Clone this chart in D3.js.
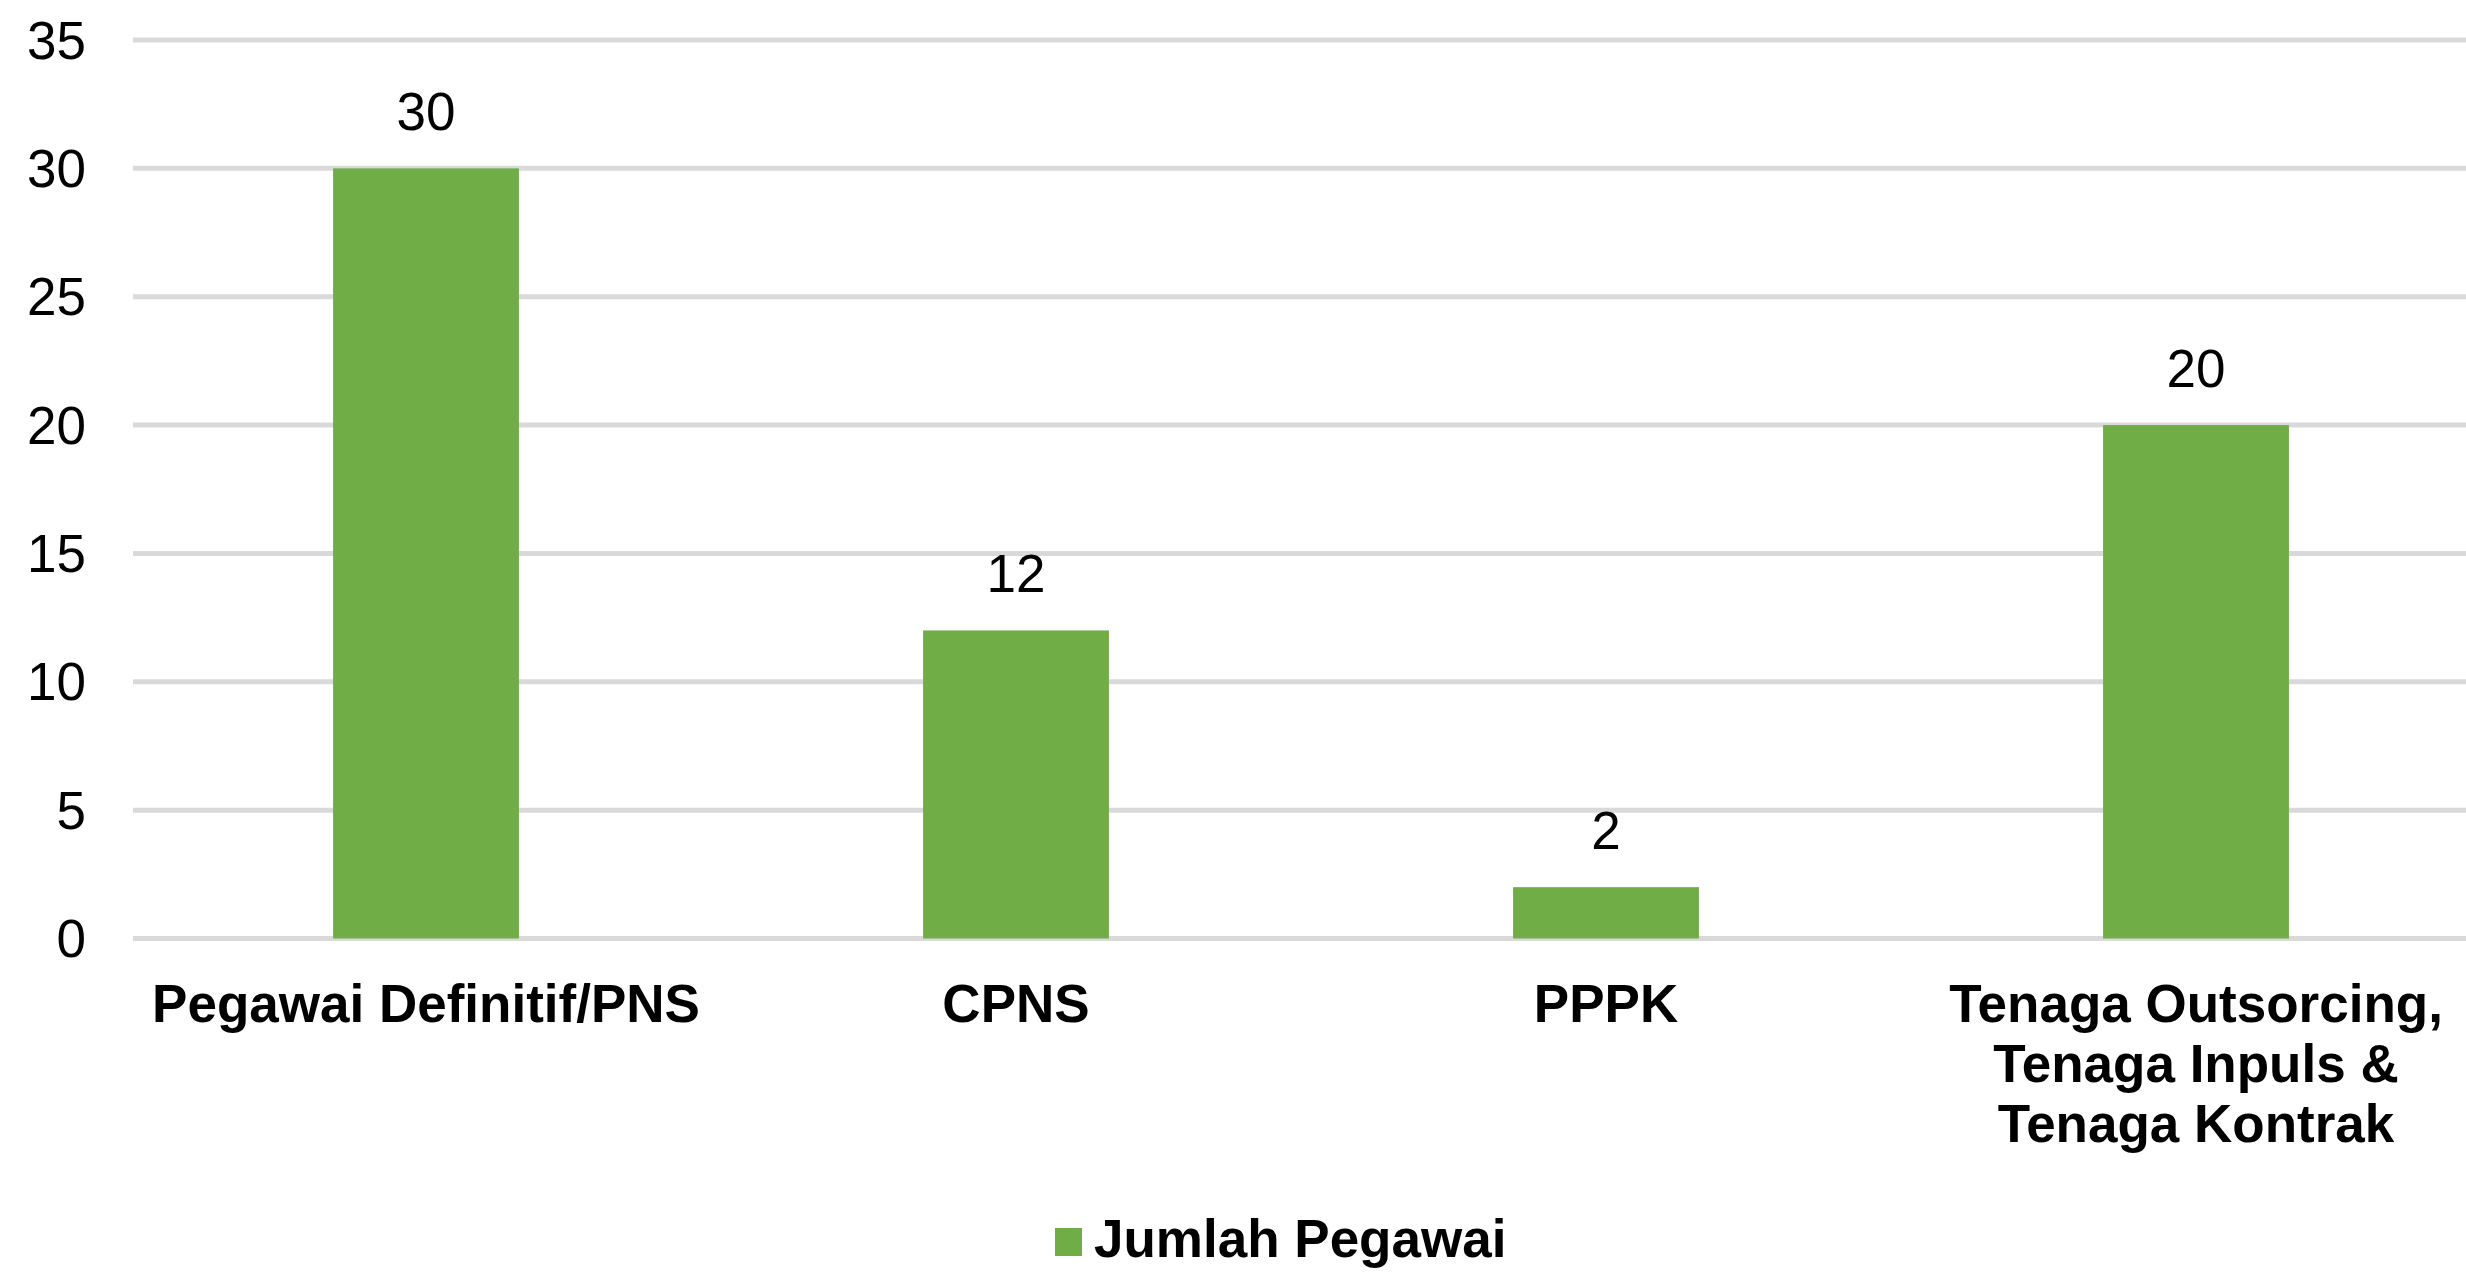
<!DOCTYPE html>
<html>
<head>
<meta charset="utf-8">
<script src="https://cdn.jsdelivr.net/npm/d3@7"></script>
<style>
	body { margin: 0; background: #fff; }
	svg { display: block; font-family: "Liberation Sans", Arial, sans-serif; }
</style>
</head>
<body>
<svg width="2466" height="1273"></svg>
<script>
// Jumlah pegawai per jenis

var categories = ['Pegawai Definitif/PNS', 'CPNS', 'PPPK', 'Tenaga Outsorcing, Tenaga Inpuls & Tenaga Kontrak']
var values = [30, 12, 2, 20]
var yTicks = [0, 5, 10, 15, 20, 25, 30, 35]
var seriesName = 'Jumlah Pegawai'

var W = 2466, H = 1273
var green = '#70ad47'
var svg = d3.select('svg')

var x = d3.scaleBand()
	.domain(categories)
	.range([131, 2491])
	.paddingInner(0.685)
	.paddingOuter(0.3425)

var y = d3.scaleLinear()
	.domain([0, 35])
	.range([938.5, 40])

// gridlines
svg.append('g')
	.selectAll('line')
	.data(yTicks)
	.enter()
	.append('line')
	.attr('x1', 133)
	.attr('x2', W)
	.attr('y1', function(d) { return y(d) })
	.attr('y2', function(d) { return y(d) })
	.attr('stroke', '#d9d9d9')
	.attr('stroke-width', 5)

// y axis labels
var yAxis = d3.axisLeft(y).tickValues(yTicks).tickSize(0).tickPadding(0)
var ya = svg.append('g')
	.attr('transform', 'translate(86,0)')
	.call(yAxis)
ya.select('.domain').remove()
ya.selectAll('text')
	.attr('font-size', 53)
	.attr('font-family', '"Liberation Sans", Arial, sans-serif')
	.attr('fill', '#000')
	.attr('dy', '0.34em')

// bars
svg.append('g')
	.selectAll('rect')
	.data(values)
	.enter()
	.append('rect')
	.attr('x', function(d, i) { return x(categories[i]) })
	.attr('y', function(d) { return y(d) })
	.attr('width', x.bandwidth())
	.attr('height', function(d) { return y(0) - y(d) })
	.attr('fill', green)

// value labels
svg.append('g')
	.selectAll('text')
	.data(values)
	.enter()
	.append('text')
	.attr('x', function(d, i) { return x(categories[i]) + x.bandwidth()/2 })
	.attr('y', function(d) { return y(d) - 38 })
	.attr('text-anchor', 'middle')
	.attr('font-size', 53)
	.text(function(d) { return d })

// category labels (wrapped like Excel does)
var catG = svg.append('g')
categories.forEach(function(c) {
	var t = catG.append('text')
		.attr('x', x(c) + x.bandwidth()/2)
		.attr('y', 1022)
		.attr('text-anchor', 'middle')
		.attr('font-size', 53)
		.attr('font-weight', 'bold')
	var words = c.split(' ')
	var line = []
	var lineNo = 0
	var ts = t.append('tspan').attr('x', x(c) + x.bandwidth()/2).attr('dy', 0)
	words.forEach(function(w) {
		line.push(w)
		ts.text(line.join(' '))
		if (ts.node().getComputedTextLength() > 560 && line.length > 1) {
			line.pop()
			ts.text(line.join(' '))
			line = [w]
			lineNo++
			ts = t.append('tspan').attr('x', x(c) + x.bandwidth()/2).attr('dy', 60).text(w)
		}
	})
})

// legend
var lg = svg.append('g').attr('transform', 'translate(1055,0)')
lg.append('rect')
	.attr('x', 0)
	.attr('y', 1228)
	.attr('width', 27)
	.attr('height', 28)
	.attr('fill', green)
lg.append('text')
	.attr('x', 39)
	.attr('y', 1257)
	.attr('font-size', 53)
	.attr('font-weight', 'bold')
	.text(seriesName)
</script>
</body>
</html>
